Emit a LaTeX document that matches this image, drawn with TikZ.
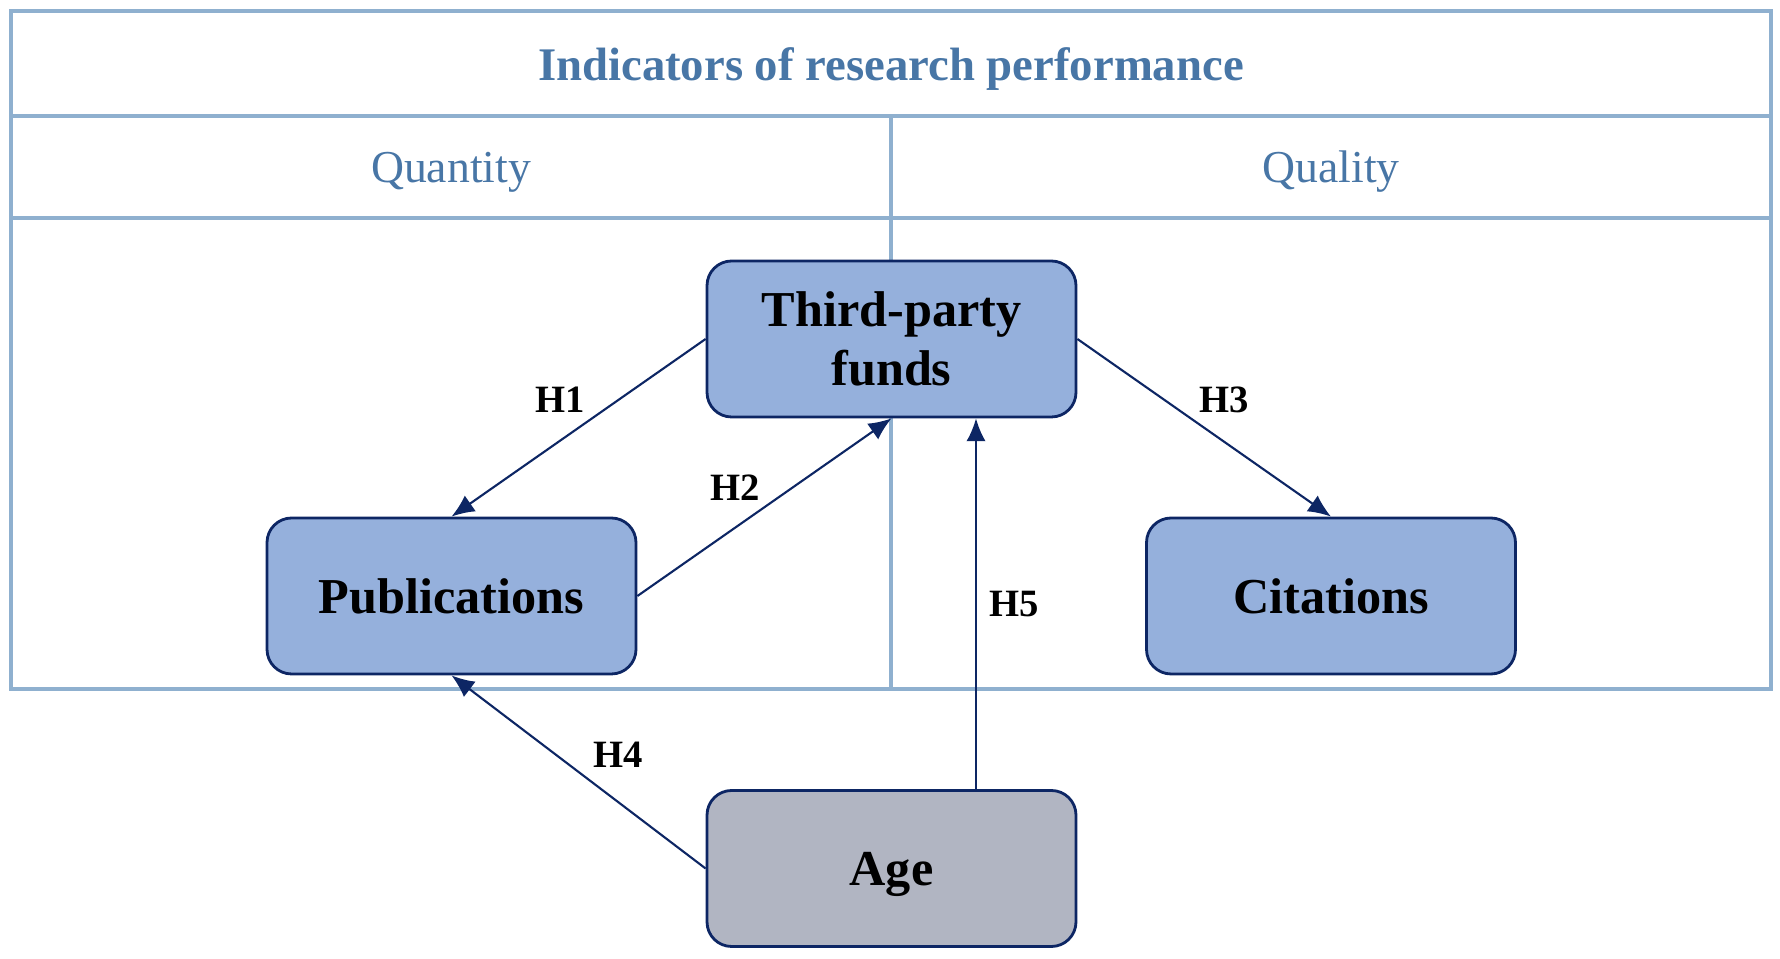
\documentclass[tikz,border=0pt]{standalone}
\usepackage{fontspec}
\setmainfont{Liberation Serif}
\usetikzlibrary{arrows.meta,positioning}
\definecolor{gridblue}{RGB}{143,176,207}
\definecolor{headblue}{RGB}{72,118,166}
\definecolor{boxfill}{RGB}{149,176,220}
\definecolor{agefill}{RGB}{177,181,194}
\definecolor{navy}{RGB}{13,38,100}

\begin{document}
\begin{tikzpicture}[
  cbox/.style={rectangle,rounded corners=7pt,draw=navy,line width=0.8pt,fill=boxfill,
               minimum width=3.69cm,minimum height=1.56cm,align=center,
               font=\fontsize{14.3}{16.8}\selectfont\bfseries,inner sep=2pt},
  hlab/.style={font=\fontsize{11}{13}\selectfont\bfseries,inner sep=1pt},
  tline/.style={draw=gridblue,line width=1pt},
  arr/.style={draw=navy,line width=0.6pt,-{Latex[length=6.5pt,width=5.5pt]}}]
\useasboundingbox (0,0) rectangle (17.8,-9.59);

% table of indicators
\draw[tline] (0.11,-0.11) rectangle (17.71,-6.89);
\draw[tline] (0.11,-1.16) -- (17.71,-1.16);
\draw[tline] (0.11,-2.18) -- (17.71,-2.18);
\draw[tline] (8.91,-1.16) -- (8.91,-6.89);
\node[font=\fontsize{13.3}{16}\selectfont\bfseries,text=headblue] (title) at (8.91,-0.69)
  {Indicators of research performance};
\node[font=\fontsize{13}{16}\selectfont,text=headblue] (quant) at (4.51,-1.72) {Quantity};
\node[font=\fontsize{13}{16}\selectfont,text=headblue] (qual) at (13.31,-1.72) {Quality};

% variables
\node[cbox] (funds) at (8.915,-3.39) {Third-party\\funds};
\node[cbox] (pubs) at (4.515,-5.96) {Publications};
\node[cbox] (cits) at (13.31,-5.96) {Citations};
\node[cbox,fill=agefill,text depth=0pt] (age) at (8.915,-8.685) {Age};

% hypotheses
\coordinate (hfive) at (9.76,0);
\draw[arr] (funds.west) -- (pubs.north);
\draw[arr] (pubs.east) -- (funds.south);
\draw[arr] (funds.east) -- (cits.north);
\draw[arr] (age.west) -- (pubs.south);
\draw[arr] (age.north -| hfive) -- (funds.south -| hfive);

\node[hlab] (h1) at (5.60,-4.00) {H1};
\node[hlab] (h2) at (7.35,-4.88) {H2};
\node[hlab] (h3) at (12.24,-4.00) {H3};
\node[hlab] (h4) at (6.18,-7.55) {H4};
\node[hlab] (h5) at (10.14,-6.04) {H5};
\end{tikzpicture}
\end{document}
